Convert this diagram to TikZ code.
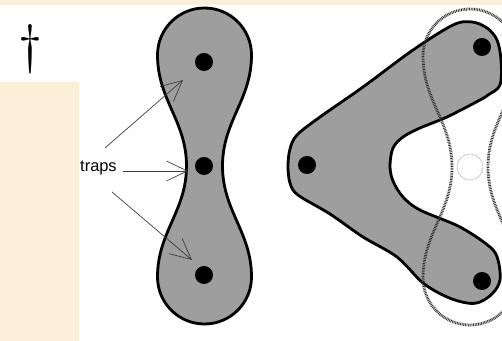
\documentclass[tikz,border=0pt]{standalone}
\usepackage{fontspec}
\newfontfamily\labelfont{Liberation Sans}
\usetikzlibrary{arrows.meta}
\definecolor{pagebeige}{HTML}{FCEFD8}
\begin{document}
\begin{tikzpicture}[x = 0.03cm, y = 0.03cm,
  region/.style = {draw = black, line width = 2.4pt, fill = black!38},
  ghost region/.style = {draw = black!80, line width = 2.4pt, dash pattern = on 0.7pt off 0.7pt},
  trap/.style = {circle, fill = black, inner sep = 0pt, minimum size = 0.54cm},
  empty trap/.style = {circle, draw = black!30, line width = 0.4pt, inner sep = 0pt, minimum size = 0.78cm},
  trap arrow/.style = {draw = black!75, line width = 0.6pt, -{Straight Barb[length = 0.62cm, width = 0.6cm]}}]
\useasboundingbox (0,0) rectangle (502,341);
\clip (0,0) rectangle (502,341);
% page behind the figure
\fill[pagebeige] (0,0) rectangle (502,341);
\fill[white] (0,259) rectangle (79,336);
\fill[white] (79,0) rectangle (502,336);
\node at (30,292) (dagger) {\fontsize{46}{46}\selectfont\textdagger};
% straight chain of traps
\begin{scope}[shift = {(204.5,175)}]
\filldraw[region] (47,111) arc[start angle = 0, end angle = 180, radius = 47]
  .. controls (-47,66) and (-18,45) .. (-18,0)
  .. controls (-18,-45) and (-47,-66) .. (-47,-111)
  arc[start angle = 180, end angle = 360, radius = 47]
  .. controls (47,-66) and (18,-45) .. (18,0)
  .. controls (18,45) and (47,66) .. (47,111) -- cycle;
\end{scope}
\node[trap] at (204,279) (s1) {};
\node[trap] at (204,175) (s2) {};
\node[trap] at (204,66) (s3) {};
% bent chain of traps
\filldraw[region] plot[smooth cycle, tension = 0.55] coordinates {
  (288,175) (290,192) (297,206) (320,224) (363,254) (413,291) (453,316)
  (472,319) (487,313) (497,301) (501,281) (500,256) (488,246) (480,241)
  (447,224) (420,213) (403,204) (393,193) (390,175) (393,160) (403,144)
  (420,131) (460,114) (490,94) (498,81) (500,61) (493,48) (480,39)
  (467,38) (447,44) (423,58) (397,84) (363,104) (330,127) (298,146) (290,158)};
\node[trap] at (307,176) (b1) {};
\node[trap] at (482,294) (b2) {};
\node[trap] at (482,60) (b3) {};
% old position of the chain
\begin{scope}[shift = {(470,174)}]
\draw[ghost region] (47,111) arc[start angle = 0, end angle = 180, radius = 47]
  .. controls (-47,66) and (-18,45) .. (-18,0)
  .. controls (-18,-45) and (-47,-66) .. (-47,-111)
  arc[start angle = 180, end angle = 360, radius = 47]
  .. controls (47,-66) and (18,-45) .. (18,0)
  .. controls (18,45) and (47,66) .. (47,111) -- cycle;
\end{scope}
\node[empty trap] at (470,174) (e1) {};
% label
\node[anchor = west, inner sep = 0pt] at (80,173) (traps) {\labelfont\fontsize{14}{16}\selectfont traps};
\coordinate (f1) at (105,193);
\coordinate (f2) at (123,170);
\coordinate (f3) at (112,149);
\coordinate (h1) at (183,261);
\coordinate (h2) at (188,170);
\coordinate (h3) at (192,81);
\draw[trap arrow] (f1) -- (h1);
\draw[trap arrow] (f2) -- (h2);
\draw[trap arrow] (f3) -- (h3);
\end{tikzpicture}
\end{document}
